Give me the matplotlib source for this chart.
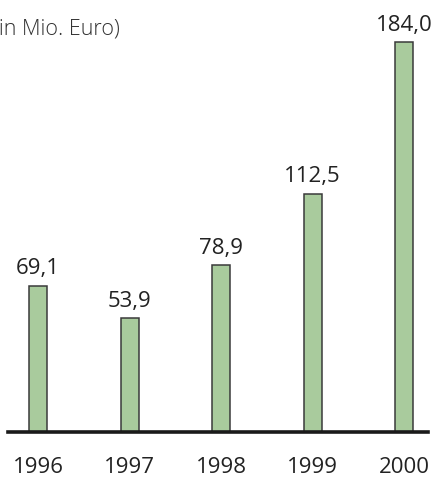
import matplotlib
matplotlib.use("Agg")
import matplotlib.pyplot as plt

years = ["1996", "1997", "1998", "1999", "2000"]
values = [69.1, 53.9, 78.9, 112.5, 184.0]
value_labels = ["69,1", "53,9", "78,9", "112,5", "184,0"]

W, H, DPI = 435, 479, 100
fig = plt.figure(figsize=(W / DPI, H / DPI), dpi=DPI)
plt.rcParams["font.family"] = ["Open Sans", "DejaVu Sans"]

# axes: baseline from x=8 to x=428 px, at 432 px from top
ax = fig.add_axes([8 / W, 47 / H, 420 / W, 432 / H])
x = list(range(len(years)))
ax.bar(x, values, width=0.197, color="#a9cb9d", edgecolor="#3a3a3a", linewidth=1.1, zorder=2)

ax.set_xlim(-0.328, 4.262)
ax.set_ylim(0, 203.8)

for s in ["top", "right", "left"]:
    ax.spines[s].set_visible(False)
ax.spines["bottom"].set_linewidth(2.6)
ax.spines["bottom"].set_color("#1a1a1a")
ax.spines["bottom"].set_zorder(3)
ax.set_xticks([])
ax.set_yticks([])

for xi, v, lab in zip(x, values, value_labels):
    ax.annotate(lab, xy=(xi, v), xytext=(0, 8), textcoords="offset points",
                ha="center", va="baseline", fontsize=16, color="#222222",
                annotation_clip=False)

for xi, yr in zip(x, years):
    ax.annotate(yr, xy=(xi, 0), xytext=(0, -29.5), textcoords="offset points",
                ha="center", va="baseline", fontsize=16, color="#222222",
                annotation_clip=False)

fig.text(-7 / W, 1 - 34 / H, "(in Mio. Euro)", ha="left", va="baseline",
         fontsize=15.5, color="#333333", fontweight="light")

fig.savefig("out.png", dpi=DPI)
